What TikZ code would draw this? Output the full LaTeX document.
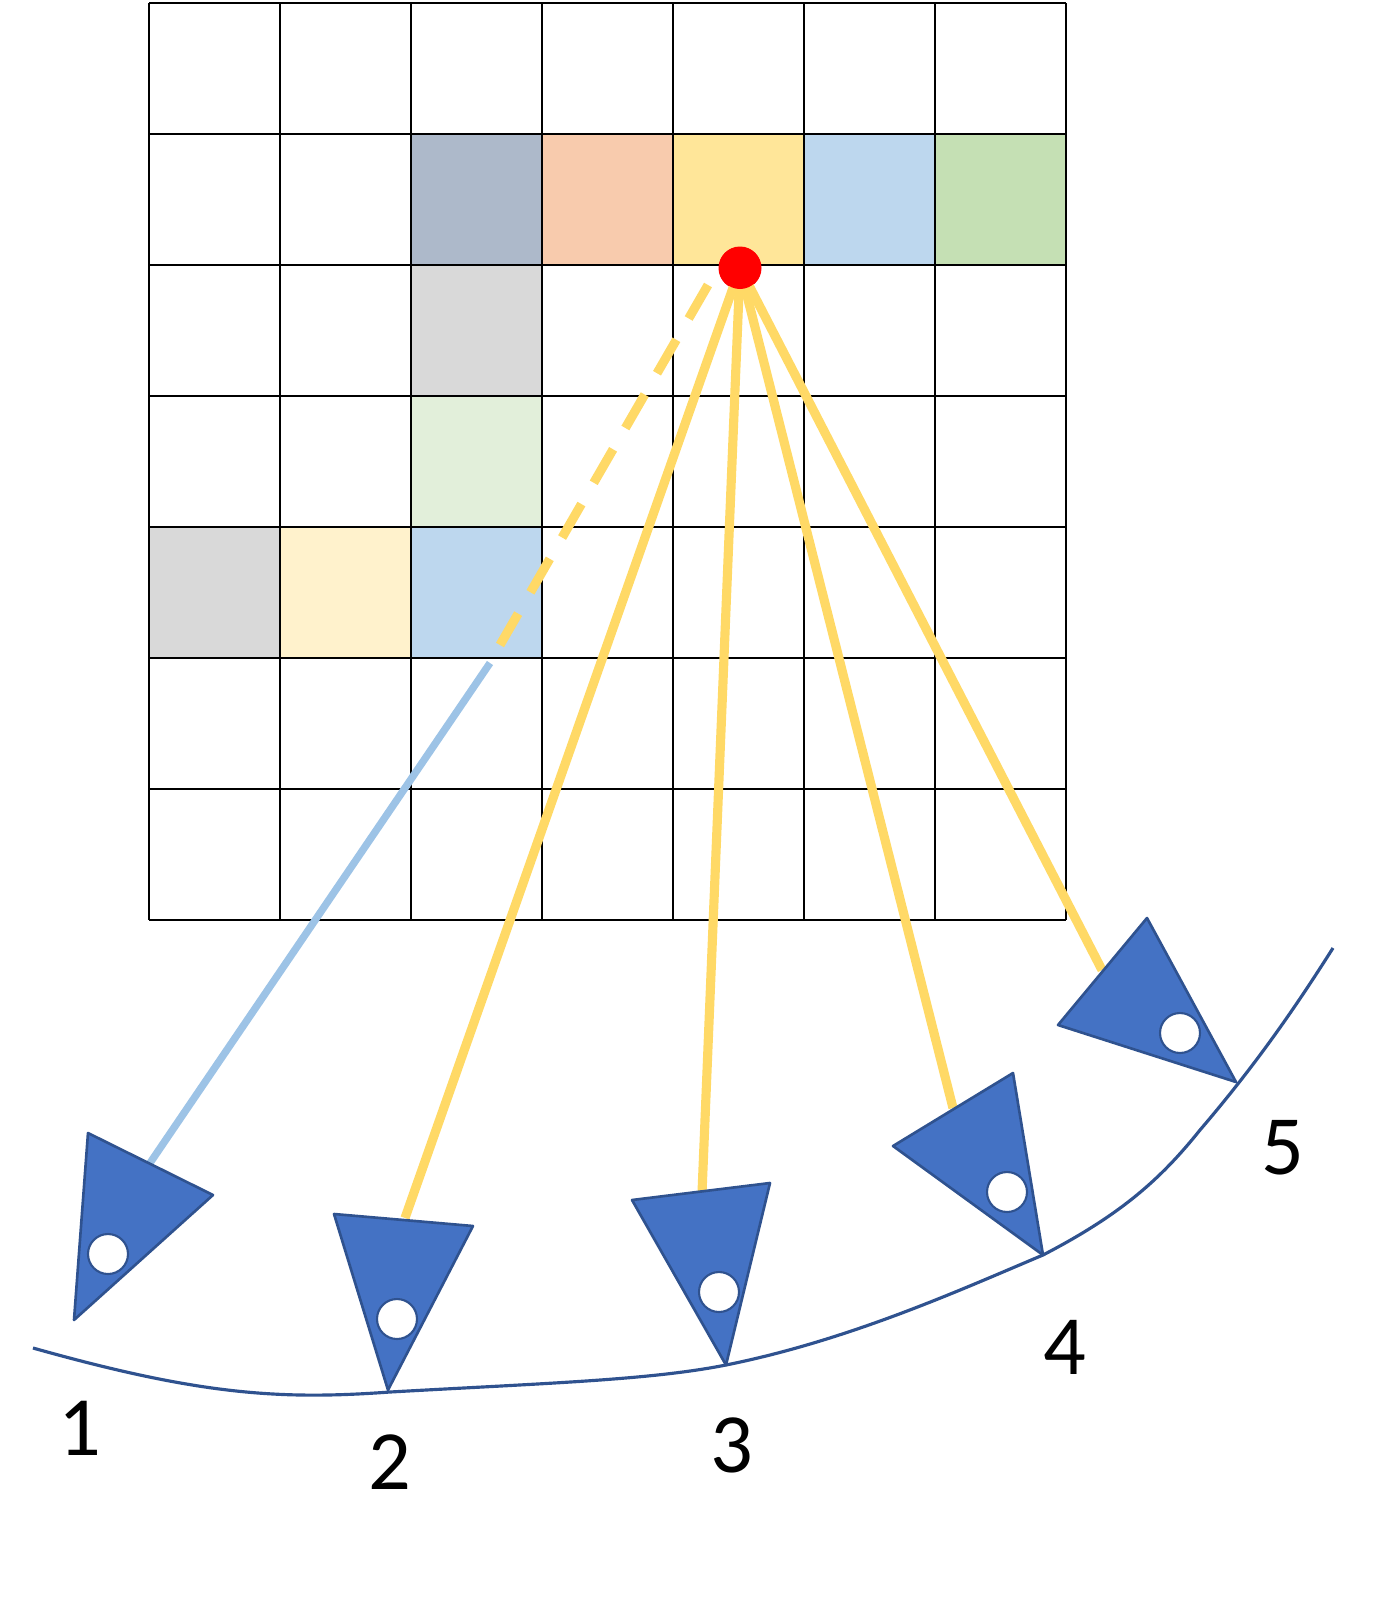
\documentclass[tikz,border=0pt]{standalone}
\usepackage{fontspec}
\setmainfont{Carlito}
\begin{document}
\begin{tikzpicture}[x=0.02cm,y=-0.02cm,
  ray/.style={draw={rgb,255:red,255;green,217;blue,102},line width=5.2pt},
  tri/.style={fill={rgb,255:red,68;green,114;blue,196},draw={rgb,255:red,47;green,82;blue,143},line width=1.5pt,line join=round},
  hole/.style={circle,fill=white,draw={rgb,255:red,47;green,82;blue,143},line width=1.2pt,minimum size=0.8cm,inner sep=0pt},
  lab/.style={font=\fontsize{48}{52}\selectfont}]
\useasboundingbox (0,0) rectangle (1388,1599);
\def\cell#1#2#3{\fill[#3] ({149+131*#1},{3+131*#2}) rectangle ++(131,131);}
\definecolor{c1}{RGB}{173,185,202}\definecolor{c2}{RGB}{248,203,173}
\definecolor{c3}{RGB}{255,230,153}\definecolor{c4}{RGB}{189,215,238}
\definecolor{c5}{RGB}{197,224,180}\definecolor{c6}{RGB}{217,217,217}
\definecolor{c7}{RGB}{226,239,218}\definecolor{c8}{RGB}{255,242,204}
\cell{2}{1}{c1}\cell{3}{1}{c2}\cell{4}{1}{c3}\cell{5}{1}{c4}\cell{6}{1}{c5}
\cell{2}{2}{c6}\cell{2}{3}{c7}\cell{0}{4}{c6}\cell{1}{4}{c8}\cell{2}{4}{c4}
\foreach \i in {0,...,7}{
  \draw[line width=1.1pt] ({149+131*\i},3) -- ({149+131*\i},920);
  \draw[line width=1.1pt] (149,{3+131*\i}) -- (1066,{3+131*\i});}
\node[circle,fill=red,minimum size=0.86cm,inner sep=0pt] (dot) at (740,268) {};
\coordinate (d1) at (708,285); \coordinate (d2) at (500,645);
\coordinate (b1) at (490,663); \coordinate (e1) at (150,1163);
\coordinate (e2) at (405,1218); \coordinate (e3) at (702,1193);
\coordinate (e4) at (953,1108); \coordinate (e5) at (1102,970);
\draw[ray,dash pattern=on 22pt off 14pt] (d1) -- (d2);
\draw[draw={rgb,255:red,157;green,195;blue,230},line width=4.2pt] (b1) -- (e1);
\foreach \e in {e2,e3,e4,e5}{\draw[ray] (dot.center) -- (\e);}
\fill[red] (dot.center) circle (21);
\draw[tri] (88,1133) -- (213,1195) -- (74,1320) -- cycle;
\draw[tri] (334,1214) -- (473,1226) -- (388,1390) -- cycle;
\draw[tri] (632,1200) -- (770,1183) -- (726,1365) -- cycle;
\draw[tri] (893,1146) -- (1013,1073) -- (1043,1255) -- cycle;
\draw[tri] (1058,1025) -- (1147,918) -- (1236,1082) -- cycle;
\node[hole] (h1) at (108,1254) {};
\node[hole] (h2) at (397,1319) {};
\node[hole] (h3) at (719,1292) {};
\node[hole] (h4) at (1007,1192) {};
\node[hole] (h5) at (1180,1033) {};
\draw[draw={rgb,255:red,47;green,82;blue,143},line width=1.8pt]
  (33,1348) .. controls (200,1395) and (280,1400) .. (390,1392)
  .. controls (550,1383) and (650,1380) .. (726,1365)
  .. controls (850,1340) and (960,1290) .. (1043,1255)
  .. controls (1120,1215) and (1160,1180) .. (1200,1130)
  .. controls (1260,1060) and (1300,1000) .. (1333,948);
\node[lab] (l1) at (80,1428) {1};
\node[lab] (l2) at (390,1462) {2};
\node[lab] (l3) at (732,1445) {3};
\node[lab] (l4) at (1065,1347) {4};
\node[lab] (l5) at (1283,1148) {5};
\end{tikzpicture}
\end{document}
